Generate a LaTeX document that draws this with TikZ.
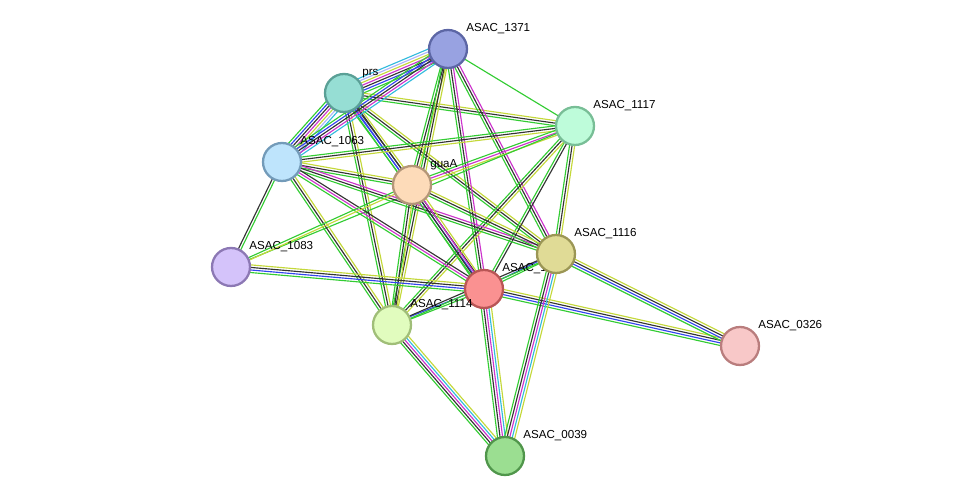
\documentclass[tikz,border=0pt]{standalone}
\usepackage{fontspec}
\setmainfont{Liberation Sans}
\usetikzlibrary{calc}
\definecolor{eg}{HTML}{33CC33}
\definecolor{eb}{HTML}{3344EE}
\definecolor{ek}{HTML}{333333}
\definecolor{em}{HTML}{CC33CC}
\definecolor{ec}{HTML}{33BBDD}
\definecolor{ey}{HTML}{C4D83A}
\newcommand\bund[4]{%
  \foreach \cc [count=\ii] in {#4} {%
    \pgfmathsetmacro\oo{(\ii-(#3+1)/2)*1.45}%
    \draw[\cc,line width=0.65pt] ($(#1)!\oo pt!90:(#2)$) -- ($(#2)!\oo pt!-90:(#1)$);
  }}
\begin{document}
\begin{tikzpicture}[x=0.02cm,y=-0.02cm,
  prot/.style={circle,minimum size=0.76cm,line width=1.3pt,inner sep=0pt},
  lab/.style={font=\fontsize{6.6}{7}\selectfont,anchor=base west,inner sep=0pt}]
\useasboundingbox (0,0) rectangle (975,502);
\coordinate (c1371) at (448,49);
\coordinate (cprs) at (344,93);
\coordinate (c1117) at (575,126);
\coordinate (c1063) at (282,162);
\coordinate (cguaA) at (412,185);
\coordinate (c1116) at (556,254);
\coordinate (c1083) at (231,267);
\coordinate (c1115) at (484,289);
\coordinate (c1114) at (392,325);
\coordinate (c0326) at (740,346);
\coordinate (c0039) at (505,456);
% edges
\bund{cprs}{c1371}{7}{eg,eb,ek,em,ey,eb!40,ec}
\bund{cprs}{c1117}{3}{eg,ek,ey}
\bund{cprs}{c1063}{7}{eg,eb,ek,em,ey,eb!40,ec}
\bund{cprs}{cguaA}{4}{eg,eb,ek,ey}
\bund{cprs}{c1116}{3}{eg,ek,ey}
\bund{cprs}{c1115}{3}{eg,eb,ek}
\bund{cprs}{c1114}{3}{eg,ek,ey}
\bund{c1371}{c1063}{5}{eg,eb,ek,em,ec}
\bund{c1371}{cguaA}{3}{eg,ek,ey}
\bund{c1371}{c1115}{3}{eg,ek,em}
\bund{c1371}{c1116}{3}{eg,ek,em}
\bund{c1371}{c1114}{3}{eg,ek,ey}
\bund{c1371}{c1117}{1}{eg}
\bund{c1117}{c1063}{3}{eg,ek,ey}
\bund{c1117}{cguaA}{3}{eg,em,ey}
\bund{c1117}{c1116}{3}{eg,ek,ey}
\bund{c1117}{c1115}{2}{eg,ek}
\bund{c1117}{c1114}{3}{eg,ek,ey}
\bund{c1117}{c1083}{1}{eg}
\bund{c1063}{cguaA}{3}{eg,ek,ey}
\bund{c1063}{c1116}{3}{eg,ek,em}
\bund{c1063}{c1115}{3}{eg,em,ek}
\bund{c1063}{c1114}{3}{eg,ek,ey}
\bund{c1063}{c1083}{2}{ek,eg}
\bund{cguaA}{c1083}{2}{eg,ey}
\bund{cguaA}{c1116}{3}{eg,ek,ey}
\bund{cguaA}{c1115}{4}{eg,ek,em,ey}
\bund{cguaA}{c1114}{3}{eg,ek,ey}
\bund{c1083}{c1115}{4}{eg,eb,ek,ey}
\bund{c1115}{c1116}{2}{eg,eb}
\bund{c1115}{c1114}{2}{eb,eg}
\bund{c1115}{c0039}{5}{eg,ek,em,ec,ey}
\bund{c1115}{c0326}{4}{eg,eb,ek,ey}
\bund{c1116}{c0326}{4}{eg,eb,ek,ey}
\bund{c1116}{c0039}{5}{eg,ek,em,ec,ey}
\bund{c1114}{c0039}{5}{eg,ek,em,ec,ey}
\bund{c1114}{c1116}{2}{eg,ek}
% nodes
\node[prot,fill=white!40!blue!40!violet!80,fill={rgb,255:red,152;green,162;blue,225},draw={rgb,255:red,92;green,102;blue,165}] (n1371) at (c1371) {};
\node[lab] (l1371) at (466,32) {ASAC\_1371};
\node[prot,fill={rgb,255:red,150;green,222;blue,212},draw={rgb,255:red,90;green,160;blue,150}] (nprs) at (cprs) {};
\node[lab] (lprs) at (362,76) {prs};
\node[prot,fill={rgb,255:red,190;green,252;blue,218},draw={rgb,255:red,120;green,190;blue,150}] (n1117) at (c1117) {};
\node[lab] (l1117) at (593,109) {ASAC\_1117};
\node[prot,fill={rgb,255:red,190;green,228;blue,252},draw={rgb,255:red,115;green,155;blue,185}] (n1063) at (c1063) {};
\node[lab] (l1063) at (300,145) {ASAC\_1063};
\node[prot,fill={rgb,255:red,253;green,219;blue,185},draw={rgb,255:red,180;green,150;blue,120}] (nguaA) at (cguaA) {};
\node[lab] (lguaA) at (430,168) {guaA};
\node[prot,fill={rgb,255:red,212;green,195;blue,250},draw={rgb,255:red,140;green,120;blue,180}] (n1083) at (c1083) {};
\node[lab] (l1083) at (249,250) {ASAC\_1083};
\node[prot,fill={rgb,255:red,250;green,145;blue,145},draw={rgb,255:red,185;green,85;blue,85}] (n1115) at (c1115) {};
\node[lab] (l1115) at (502,272) {ASAC\_1115};
\node[prot,fill={rgb,255:red,224;green,219;blue,150},draw={rgb,255:red,155;green,150;blue,85}] (n1116) at (c1116) {};
\node[lab] (l1116) at (574,237) {ASAC\_1116};
\node[prot,fill={rgb,255:red,225;green,252;blue,190},draw={rgb,255:red,160;green,190;blue,120}] (n1114) at (c1114) {};
\node[lab] (l1114) at (410,308) {ASAC\_1114};
\node[prot,fill={rgb,255:red,248;green,200;blue,200},draw={rgb,255:red,185;green,125;blue,125}] (n0326) at (c0326) {};
\node[lab] (l0326) at (758,329) {ASAC\_0326};
\node[prot,fill={rgb,255:red,155;green,222;blue,145},draw={rgb,255:red,80;green,150;blue,75}] (n0039) at (c0039) {};
\node[lab] (l0039) at (523,439) {ASAC\_0039};
\end{tikzpicture}
\end{document}
